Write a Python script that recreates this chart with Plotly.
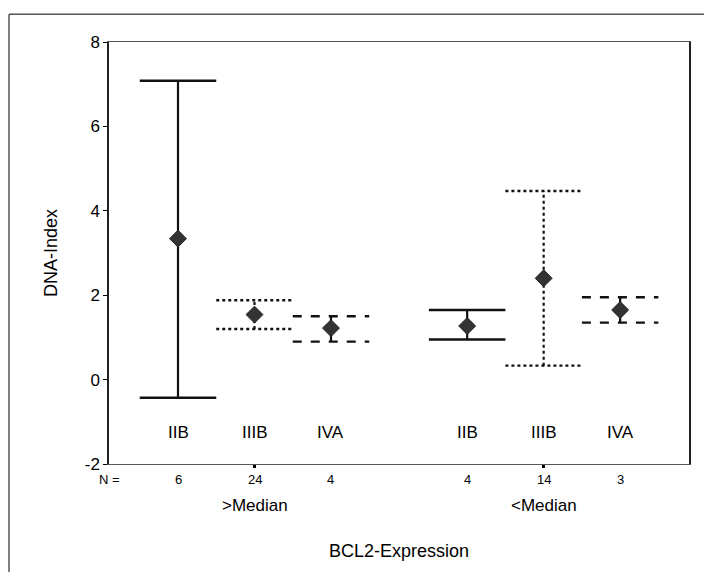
import plotly.graph_objects as go

# Groups: BCL2 expression level x tumour stage
stages = ["IIB", "IIIB", "IVA", "IIB", "IIIB", "IVA"]
groups = [">Median", "<Median"]
n_cases = [6, 24, 4, 4, 14, 3]
x_pos = [1, 2, 3, 4.78, 5.78, 6.78]
means = [3.34, 1.54, 1.22, 1.27, 2.40, 1.65]
upper = [7.08, 1.88, 1.50, 1.65, 4.47, 1.95]
lower = [-0.43, 1.20, 0.90, 0.95, 0.33, 1.35]
dash_styles = ["solid", "dot", "dash", "solid", "dot", "dash"]
group_centres = [2, 5.78]
y_ticks = [-2, 0, 2, 4, 6, 8]

cap_half = 0.5
ink = "#111111"

fig = go.Figure()

for x, m, hi, lo, ds in zip(x_pos, means, upper, lower, dash_styles):
    # vertical stem
    fig.add_trace(go.Scatter(x=[x, x], y=[lo, hi], mode="lines",
                             line=dict(color=ink, width=2.2, dash=ds),
                             showlegend=False, hoverinfo="skip"))
    # caps
    for yv in (hi, lo):
        fig.add_trace(go.Scatter(x=[x - cap_half, x + cap_half], y=[yv, yv], mode="lines",
                                 line=dict(color=ink, width=2.4, dash=ds),
                                 showlegend=False, hoverinfo="skip"))

fig.add_trace(go.Scatter(x=x_pos, y=means, mode="markers",
                         marker=dict(symbol="diamond", size=13, color="#333333",
                                     line=dict(color="#222222", width=1)),
                         showlegend=False, hoverinfo="skip"))

font = "Liberation Sans, Arial, sans-serif"


def label(text, x, xref, y, yref, size, yshift=0):
    return dict(x=x, y=y, xref=xref, yref=yref, yshift=yshift, text=text,
                showarrow=False, xanchor="center", yanchor="middle",
                font=dict(family=font, size=size, color="#000"))


ann = []
for x, s in zip(x_pos, stages):
    ann.append(label(s, x, "x", -1.26, "y", 17))
ann.append(label("N =", 0, "paper", 0, "paper", 13, yshift=-15))
for x, n in zip(x_pos, n_cases):
    ann.append(label(str(n), x, "x", 0, "paper", 13, yshift=-15))
for x, g in zip(group_centres, groups):
    ann.append(label(g, x, "x", 0, "paper", 17, yshift=-41))
ann.append(label("BCL2-Expression", 0.5, "paper", 0, "paper", 18, yshift=-87))

fig.update_layout(
    width=704, height=572,
    margin=dict(l=109, r=15, t=42, b=108),
    paper_bgcolor="white", plot_bgcolor="white",
    annotations=ann,
    xaxis=dict(range=[0.098, 7.68], showgrid=False, zeroline=False,
               tickvals=group_centres, ticktext=["", ""], ticks="outside", ticklen=3,
               tickwidth=3, tickcolor="#000",
               showline=True, linecolor="#555", linewidth=1, mirror=True),
    yaxis=dict(range=[-2, 8], tickvals=y_ticks, ticktext=[str(v) for v in y_ticks],
               showgrid=False, zeroline=False,
               ticks="outside", ticklen=4, tickcolor="#000",
               showline=True, linecolor="#222", linewidth=1.5, mirror=True,
               title=dict(text="DNA-Index", font=dict(family=font, size=18, color="#000"), standoff=22),
               tickfont=dict(family=font, size=17, color="#000")),
    shapes=[dict(type="line", xref="paper", yref="paper", x0=-0.1724, x1=1.2, y0=1.066, y1=1.066,
                 line=dict(color="#555", width=1.5)),
            dict(type="line", xref="paper", yref="paper", x0=-0.1724, x1=-0.1724, y0=1.066, y1=-0.4,
                 line=dict(color="#555", width=1.5))],
)

fig.write_html("out.html")
